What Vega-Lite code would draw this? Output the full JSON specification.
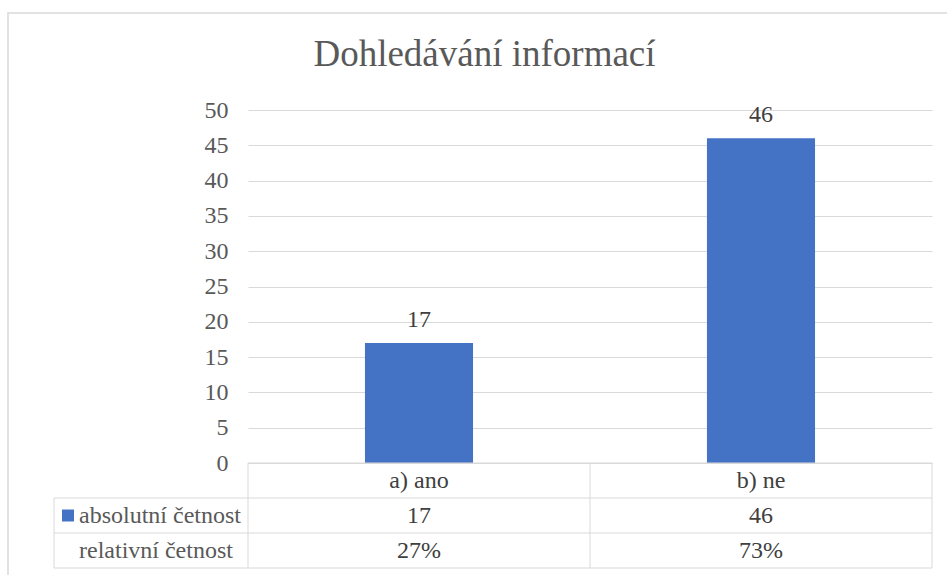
{
  "$schema": "https://vega.github.io/schema/vega-lite/v6.json",
  "width": 684,
  "height": 353,
  "autosize": {"type": "none"},
  "padding": {"left": 248, "top": 110, "right": 15, "bottom": 112},
  "background": "white",
  "config": {"view": {"stroke": null}, "font": "Liberation Serif"},
  "title": {
    "text": "Dohledávání informací",
    "font": "Liberation Serif",
    "fontSize": 37,
    "fontWeight": "normal",
    "color": "#595959",
    "anchor": "middle",
    "frame": "bounds",
    "offset": -62
  },
  "datasets": {
    "bars": [
      {"cat": "a) ano", "n": 17, "pct": "27%"},
      {"cat": "b) ne", "n": 46, "pct": "73%"}
    ],
    "cells": [
      {"c": 1.5, "r": 0.5, "t": "a) ano"},
      {"c": 2.5, "r": 0.5, "t": "b) ne"},
      {"c": 1.5, "r": 1.5, "t": "17"},
      {"c": 2.5, "r": 1.5, "t": "46"},
      {"c": 1.5, "r": 2.5, "t": "27%"},
      {"c": 2.5, "r": 2.5, "t": "73%"}
    ],
    "rowlabels": [
      {"c": 0, "r": 1.5, "t": "absolutní četnost"},
      {"c": 0, "r": 2.5, "t": "relativní četnost"}
    ],
    "key": [{"c": 0, "r": 1.5}],
    "lines": [
      {"x1": 1, "x2": 3, "y1": 0, "y2": 0},
      {"x1": 0, "x2": 3, "y1": 1, "y2": 1},
      {"x1": 0, "x2": 3, "y1": 2, "y2": 2},
      {"x1": 0, "x2": 3, "y1": 3, "y2": 3},
      {"x1": 0, "x2": 0, "y1": 1, "y2": 3},
      {"x1": 1, "x2": 1, "y1": 0, "y2": 3},
      {"x1": 2, "x2": 2, "y1": 0, "y2": 3},
      {"x1": 3, "x2": 3, "y1": 0, "y2": 3}
    ],
    "frame": [{"x1": -1, "x2": 4, "y1": -1, "y2": 4}]
  },
  "layer": [
    {
      "data": {"name": "bars"},
      "encoding": {
        "x": {"field": "cat", "type": "nominal", "sort": null,
              "scale": {"type": "band", "paddingInner": 0, "paddingOuter": 0}, "axis": null},
        "y": {"field": "n", "type": "quantitative",
              "scale": {"domain": [0, 50], "nice": false, "zero": true},
              "axis": {"title": null, "values": [0, 5, 10, 15, 20, 25, 30, 35, 40, 45, 50],
                       "ticks": false, "domain": false, "labelPadding": 20,
                       "labelFont": "Liberation Serif", "labelFontSize": 24, "labelColor": "#595959",
                       "gridColor": "#d9d9d9", "gridWidth": 1}}
      },
      "layer": [
        {"mark": {"type": "bar", "color": "#4472C4", "width": {"band": 0.316}}},
        {"mark": {"type": "text", "dy": -16, "baseline": "alphabetic", "fontSize": 24,
                  "font": "Liberation Serif", "color": "#404040"},
         "encoding": {"text": {"field": "n"}}}
      ]
    },
    {
      "layer": [
        {
          "data": {"name": "frame"},
          "mark": {"type": "rect", "filled": false, "stroke": "#d9d9d9", "strokeWidth": 1.5},
          "encoding": {
            "x": {"field": "x1", "type": "quantitative", "axis": null,
                  "scale": {"domain": [-1, 0, 1, 2, 3, 4], "range": [-240, -194, 0, 342, 684, 713], "nice": false, "zero": false}},
            "x2": {"field": "x2"},
            "y": {"field": "y1", "type": "quantitative", "axis": null,
                  "scale": {"domain": [-1, 0, 3, 4], "range": [-97, 353, 458, 490], "nice": false, "zero": false}},
            "y2": {"field": "y2"}
          }
        },
        {
          "data": {"name": "lines"},
          "mark": {"type": "rule", "color": "#d9d9d9", "strokeWidth": 1},
          "encoding": {
            "x": {"field": "x1", "type": "quantitative", "axis": null},
            "x2": {"field": "x2"},
            "y": {"field": "y1", "type": "quantitative", "axis": null},
            "y2": {"field": "y2"}
          }
        },
        {
          "data": {"name": "cells"},
          "mark": {"type": "text", "align": "center", "baseline": "middle", "fontSize": 24,
                   "font": "Liberation Serif", "color": "#404040"},
          "encoding": {
            "x": {"field": "c", "type": "quantitative", "axis": null},
            "y": {"field": "r", "type": "quantitative", "axis": null},
            "text": {"field": "t"}
          }
        },
        {
          "data": {"name": "rowlabels"},
          "mark": {"type": "text", "align": "left", "baseline": "middle", "dx": 25, "fontSize": 24,
                   "font": "Liberation Serif", "color": "#595959"},
          "encoding": {
            "x": {"field": "c", "type": "quantitative", "axis": null},
            "y": {"field": "r", "type": "quantitative", "axis": null},
            "text": {"field": "t"}
          }
        },
        {
          "data": {"name": "key"},
          "mark": {"type": "point", "shape": "square", "filled": true, "size": 144, "opacity": 1,
                   "color": "#4472C4", "xOffset": 14},
          "encoding": {
            "x": {"field": "c", "type": "quantitative", "axis": null},
            "y": {"field": "r", "type": "quantitative", "axis": null}
          }
        }
      ]
    }
  ],
  "resolve": {"scale": {"x": "independent", "y": "independent"}}
}
